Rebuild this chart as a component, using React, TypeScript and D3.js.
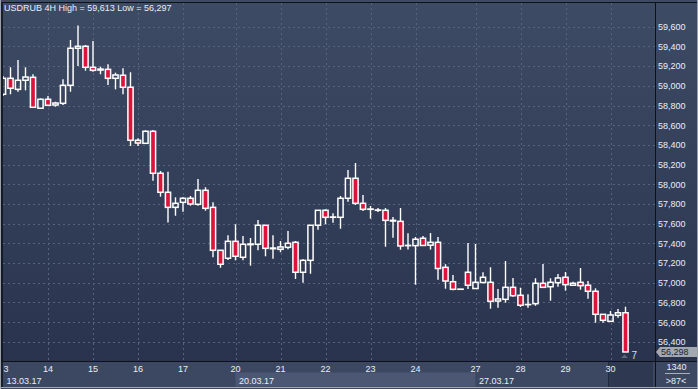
import React from "react";
import * as d3 from "d3";

// day ticks on the x axis (index of the first 4H bar of each day)
const dayLabels = ["3", "14", "15", "16", "17", "20", "21", "22", "23", "24", "27", "28", "29", "30"];
const dayStarts = [0, 6, 12, 18, 24, 31, 37, 43, 49, 55, 63, 69, 75, 81];
const weekLabels = ["13.03.17", "20.03.17", "27.03.17"];
const weekStarts = [0, 31, 63];

// USDRUB 4H candles
const opens = [
  58914, 59076, 58964, 59056, 59086, 58772, 58863, 58805, 58822, 59005,
  59381, 59401, 59188, 59160, 59167, 59076, 59107, 58985, 58447, 58416,
  58538, 58112, 57919, 57766, 57817, 57858, 57797, 57939, 57766, 57330,
  57249, 57421, 57259, 57387, 57391, 57584, 57353, 57340, 57360, 57411,
  57107, 57228, 57584, 57736, 57665, 57665, 57858, 58061, 57807, 57746,
  57736, 57736, 57634, 57624, 57377, 57377, 57452, 57382, 57411, 57157,
  57011, 56934, 57107, 56942, 57003, 57005, 56815, 56832, 56954, 56873,
  56778, 56788, 56995, 56960, 57001, 57056, 56975, 57005, 56975, 56914,
  56680, 56609, 56670, 56696,
];
const highs = [
  59099, 59188, 59262, 59188, 59117, 58873, 58896, 58838, 59066, 59465,
  59613, 59414, 59455, 59194, 59218, 59133, 59178, 59137, 58467, 58548,
  58551, 58135, 58128, 57868, 57868, 57881, 58054, 57970, 57817, 57330,
  57482, 57594, 57475, 57455, 57638, 57584, 57482, 57424, 57526, 57424,
  57239, 57584, 57736, 57746, 57706, 57881, 58145, 58216, 57891, 57780,
  57759, 57759, 57668, 57759, 57502, 57465, 57475, 57505, 57465, 57189,
  57079, 56936, 57404, 57394, 57108, 57158, 56937, 57221, 57049, 56950,
  56883, 57046, 57191, 57046, 57089, 57110, 57011, 57150, 57018, 56944,
  56680, 56714, 56734, 56757,
];
const lows = [
  58896, 58914, 58940, 58954, 58782, 58770, 58795, 58788, 58805, 58940,
  59201, 59153, 59143, 59117, 59008, 58964, 58914, 58389, 58389, 58410,
  58037, 57874, 57612, 57681, 57722, 57783, 57783, 57732, 57259, 57153,
  57231, 57228, 57228, 57174, 57330, 57269, 57245, 57310, 57340, 57039,
  57001, 57092, 57539, 57594, 57610, 57549, 57823, 57790, 57729, 57651,
  57719, 57366, 57458, 57336, 57338, 56981, 57377, 57337, 57032, 56940,
  56924, 56934, 56937, 56937, 56995, 56737, 56747, 56798, 56859, 56754,
  56747, 56767, 56954, 56818, 56960, 56920, 56973, 56930, 56839, 56595,
  56595, 56602, 56646, 56297,
];
const closes = [
  59076, 58975, 59056, 59089, 58782, 58863, 58802, 58825, 59005, 59381,
  59401, 59188, 59157, 59170, 59076, 59110, 58985, 58447, 58419, 58538,
  58112, 57919, 57766, 57807, 57858, 57800, 57939, 57756, 57330, 57188,
  57421, 57269, 57391, 57394, 57584, 57350, 57346, 57364, 57401, 57107,
  57228, 57584, 57736, 57665, 57668, 57858, 58061, 57807, 57746, 57749,
  57739, 57634, 57627, 57374, 57380, 57442, 57379, 57411, 57145, 57018,
  56934, 56936, 56975, 57005, 57056, 56812, 56836, 56954, 56869, 56772,
  56780, 56995, 56954, 57005, 57049, 56981, 56995, 56971, 56914, 56680,
  56619, 56673, 56696, 56298,
];

const W = 698;
const H = 389;
const plotL = 3;
const plotR = 655;
const plotT = 2;
const plotB = 361;
const font = "'Liberation Sans', Arial, sans-serif";
const textColor = "#e8eef7";

export default function App() {
  const x = d3.scaleLinear().domain([0, 1]).range([3, 10.5]);
  const y = d3.scaleLinear().domain([56400, 59600]).range([341.9, 26.7]);
  const yTicks = y.ticks(16);
  const fmt = d3.format(",d");
  const last = closes[closes.length - 1];

  return (
    <svg
      width={W}
      height={H}
      style={{ position: "absolute", left: 0, top: 0, display: "block" }}
      fontFamily={font}
    >
      <defs>
        <linearGradient id="bg" x1="0" y1="0" x2="0" y2="1">
          <stop offset="0" stopColor="#3e4b65" />
          <stop offset="1" stopColor="#29334d" />
        </linearGradient>
        <clipPath id="plot">
          <rect x={plotL} y={plotT + 1} width={plotR - plotL} height={plotB - plotT - 1} />
        </clipPath>
      </defs>

      {/* backgrounds */}
      <rect x={0} y={0} width={W} height={plotB} fill="url(#bg)" />
      <rect x={0} y={plotB} width={W} height={H - plotB} fill="#3c4862" />

      {/* week band */}
      {weekStarts.map((s, i) => {
        const x0 = x(s);
        const x1 = i < weekStarts.length - 1 ? x(weekStarts[i + 1]) : plotR;
        return (
          <rect key={"wb" + i} x={x0} y={372.5} width={x1 - x0} height={14}
            fill={i % 2 === 1 ? "#4c5873" : "#3c4862"} />
        );
      })}
      <rect x={608} y={362} width={45} height={25} fill="#2e3951" />
      <line x1={608.5} x2={608.5} y1={362} y2={387} stroke="#222b3e" />

      {/* grid */}
      {yTicks.map((t) => (
        <line key={"h" + t} x1={plotL} x2={plotR} y1={Math.round(y(t)) + 0.5} y2={Math.round(y(t)) + 0.5}
          stroke="#56637d" strokeDasharray="2,3" />
      ))}
      {dayStarts.slice(1).map((s) => (
        <line key={"v" + s} x1={Math.round(x(s)) + 0.5} x2={Math.round(x(s)) + 0.5} y1={plotT + 1} y2={plotB}
          stroke="#56637d" strokeDasharray="2,3" />
      ))}

      {/* candles */}
      <g clipPath="url(#plot)">
        {closes.map((c, i) => {
          const o = opens[i];
          const cx = x(i);
          const top = y(Math.max(o, c));
          const bot = y(Math.min(o, c));
          const bull = c >= o;
          return (
            <g key={"c" + i}>
              {y(highs[i]) < top && (
                <line x1={cx} x2={cx} y1={y(highs[i])} y2={top} stroke="#fff" strokeWidth={1.4} />
              )}
              {y(lows[i]) > bot && (
                <line x1={cx} x2={cx} y1={bot} y2={y(lows[i])} stroke="#fff" strokeWidth={1.4} />
              )}
              <rect x={cx - 2.6} y={top} width={5.2} height={Math.max(0, bot - top)}
                fill={bull ? "none" : "#dc143c"} stroke="#fff" strokeWidth={1.5} />
            </g>
          );
        })}
      </g>

      {/* frame lines */}
      <line x1={2} x2={W} y1={2.5} y2={2.5} stroke="#0d1118" />
      <line x1={2} x2={2} y1={2} y2={387} stroke="#0d1118" strokeWidth={1.5} />
      <line x1={plotR + 0.5} x2={plotR + 0.5} y1={2} y2={387} stroke="#0d1118" />
      <line x1={2} x2={W} y1={plotB + 0.5} y2={plotB + 0.5} stroke="#0d1118" />
      <line x1={0.5} x2={0.5} y1={0} y2={H} stroke="#9aa0aa" />
      <line x1={W - 0.5} x2={W - 0.5} y1={0} y2={H} stroke="#9aa0aa" />
      <line x1={0} x2={W} y1={387.5} y2={387.5} stroke="#a4a9b2" />

      {/* title */}
      <text x={4} y={11.3} fontSize={9} fill={textColor}>
        USDRUB 4H High = 59,613 Low = 56,297
      </text>

      {/* price axis */}
      {yTicks.map((t) => (
        <text key={"yl" + t} x={658} y={y(t) + 3.3} fontSize={9} fill={textColor}>
          {fmt(t)}
        </text>
      ))}

      {/* time axis */}
      {dayStarts.map((s, i) => (
        <text key={"dl" + s} x={i === 0 ? x(s) + 0.5 : x(s)} y={372.3} fontSize={9}
          textAnchor={i === 0 ? "start" : "middle"} fill={textColor}>
          {dayLabels[i]}
        </text>
      ))}
      {weekStarts.map((s, i) => (
        <text key={"wl" + s} x={x(s) + 3.5} y={383.5} fontSize={9} fill={textColor}>
          {weekLabels[i]}
        </text>
      ))}

      {/* bottom-right box */}
      <text x={676.5} y={370} fontSize={9} textAnchor="middle" fill={textColor}>1340</text>
      <line x1={665} x2={690} y1={373.5} y2={373.5} stroke="#aab0ba" />
      <text x={676} y={384} fontSize={9} textAnchor="middle" fill={textColor}>&gt;87&lt;</text>

      {/* current price marker */}
      <polygon
        points={`656,${y(last)} 660,${y(last) - 5} 697,${y(last) - 5} 697,${y(last) + 5} 660,${y(last) + 5}`}
        fill="#a3a8b1"
      />
      <text x={661} y={y(last) + 3.3} fontSize={9} fill="#1c2433">{fmt(last)}</text>

      {/* bar countdown mark */}
      <polygon points="621,358 624.5,354.5 628,358" fill="#5d6678" />
      <text x={631.5} y={358.5} fontSize={10} fill="#cfe0f6">7</text>
    </svg>
  );
}
